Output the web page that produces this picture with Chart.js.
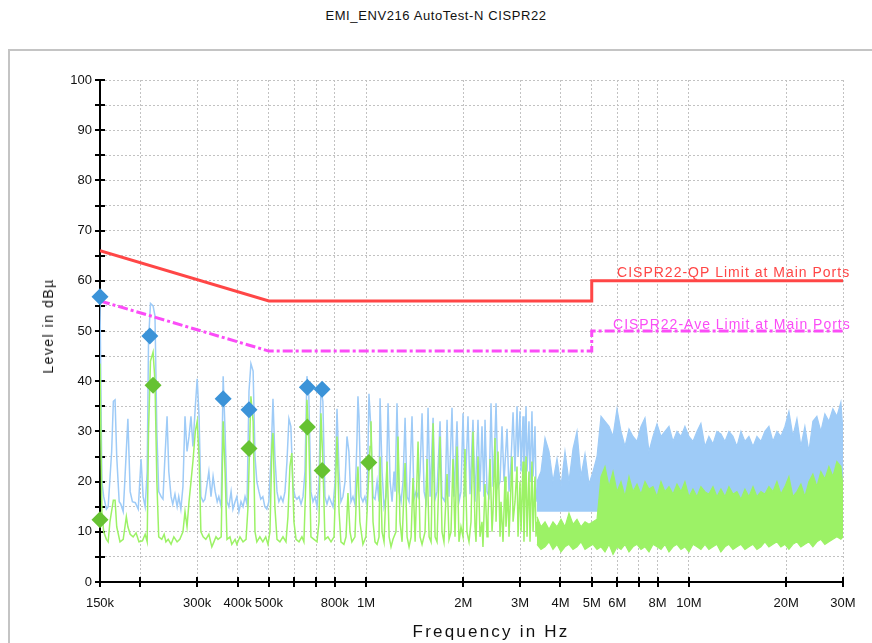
<!DOCTYPE html>
<html>
<head>
<meta charset="utf-8">
<title>EMI_ENV216 AutoTest-N CISPR22</title>
<script src="https://cdn.jsdelivr.net/npm/chart.js@4.4.1/dist/chart.umd.min.js"></script>
<style>
  html, body { margin: 0; padding: 0; background: #fff; }
  body { width: 872px; height: 643px; position: relative; overflow: hidden; font-family: "Liberation Sans", Arial, sans-serif; color: #111; }
  #frame { position: absolute; left: 8px; top: 49px; width: 900px; height: 700px; border: 2px solid #c4c4c4; }
  #title { position: absolute; left: 0; top: 8px; width: 872px; text-align: center; font-size: 13px; letter-spacing: 0.6px; }
  #chart { position: absolute; left: 0; top: 0; }
  #y-title { position: absolute; left: 48px; top: 326px; transform: translate(-50%, -50%) rotate(-90deg); font-size: 14px; letter-spacing: 1.5px; white-space: nowrap; }
  #x-title { position: absolute; left: 491px; top: 632px; transform: translate(-50%, -50%); font-size: 17px; letter-spacing: 2.2px; white-space: nowrap; }
</style>
</head>
<body>
<div id="frame"></div>
<div id="title">EMI_ENV216 AutoTest-N CISPR22</div>
<canvas id="chart" width="872" height="643"></canvas>
<div id="y-title">Level in dBµ</div>
<div id="x-title">Frequency in Hz</div>
<script>
// ── Data (frequency in kHz, level in dBµV) ──────────────────
const xTickValues = [150, 200, 300, 400, 500, 600, 700, 800, 1000, 2000, 3000, 4000, 5000, 6000, 7000, 8000, 10000, 20000, 30000];
const xTickLabels = ['150k', '', '300k', '400k', '500k', '', '', '800k', '1M', '2M', '3M', '4M', '5M', '6M', '', '8M', '10M', '20M', '30M'];

const qpFreq = [150, 500, 5000, 5000, 30000];
const qpLevel = [66, 56, 56, 60, 60];
const aveFreq = [150, 500, 5000, 5000, 30000];
const aveLevel = [56, 46, 46, 50, 50];
const qpLabel = 'CISPR22-QP Limit at Main Ports';
const aveLabel = 'CISPR22-Ave Limit at Main Ports';

// final measurement markers
const peakFreq = [150, 214, 361, 434, 658, 731];
const peakLevel = [56.8, 49.0, 36.5, 34.3, 38.8, 38.4];
const avgFreq = [150, 219, 434, 658, 731, 1020];
const avgLevel = [12.4, 39.2, 26.6, 30.9, 22.2, 23.8];

// pre-scan traces below 3.4 MHz: [kHz, level]
const blueLowTrace = [
  [150,56],[152,20],[154,17],[157,14.5],[159,15],[163,26],[165,36],[167,36.3],[169,25],[172,16],[174,15.5],[177,14],[179,20],[183,32.5],[186,18],[189,16],[193,15.8],[197,14.5],[201,24.5],[204,17],[207,15],[210,22],[212,48],[215,55.5],[219,55],[222,53],[225,30],[228,18],[232,17],[235,16.5],[238,24],[242,33],[245,22],[249,17],[252,15.5],[256,17.5],[260,15],[263,17],[267,14.5],[271,19],[275,33],[279,26],[283,29],[287,33],[291,27],[296,35],[300,40.5],[304,33],[308,17],[313,16],[317,16.5],[321,19],[326,22],[331,17],[336,21],[341,18],[346,16],[350,17],[356,15],[361,41],[366,30],[371,16],[376,15],[382,18],[387,14.5],[393,16],[398,17],[404,14],[410,16],[416,15],[422,17],[428,15.5],[434,38],[440,43.5],[447,42],[453,25],[459,20],[466,18],[472,16.5],[479,17],[486,15],[493,14.5],[500,16],[508,25],[515,36.5],[522,25],[530,18],[537,16],[545,17],[553,16],[561,18],[569,24],[577,32.5],[585,31],[594,19],[603,17],[611,16.5],[620,17],[629,15.5],[638,17],[647,22],[656,41],[665,37],[675,18],[685,16],[695,17],[705,15],[715,20],[725,38.5],[735,36],[746,17],[757,15.5],[768,17],[779,16],[790,15],[802,20],[813,34.5],[825,22],[836,16],[848,17],[861,20],[873,29],[885,26],[898,16],[911,17],[924,15.5],[937,28],[944,37],[951,33],[964,17],[978,16],[992,17],[1007,15],[1021,37.5],[1036,30],[1051,17],[1066,16.5],[1082,20],[1097,16],[1105,36.6],[1121,22],[1137,15],[1154,17],[1170,35.6],[1187,20],[1204,16],[1221,22],[1230,18],[1247,35.6],[1265,18],[1284,16],[1302,20],[1321,32.7],[1340,17],[1359,16],[1388,33],[1408,16.5],[1429,18],[1449,17],[1470,22],[1491,33.6],[1513,18],[1535,16],[1556,34.7],[1579,17],[1613,32.7],[1636,16.5],[1659,18],[1695,32],[1719,17],[1756,16],[1782,32.3],[1807,17],[1846,34.7],[1872,17],[1913,32],[1940,16],[1968,18],[1997,33.6],[2025,17],[2069,33],[2099,17.5],[2144,32.3],[2175,16],[2222,32.3],[2254,18],[2286,31],[2318,17],[2336,32.3],[2370,18],[2403,17],[2438,35.6],[2473,19],[2491,23],[2527,35.6],[2563,19],[2600,20],[2637,31],[2675,20],[2733,30.5],[2772,18],[2812,24],[2853,33.8],[2893,22],[2935,35],[2956,25],[2998,34],[3020,22],[3063,33],[3084,20],[3130,35],[3152,22],[3196,32],[3220,20],[3265,34],[3290,21],[3336,31],[3360,19],[3384,16]
];
const greenLowTrace = [
  [150,43.5],[152,14],[154,10],[157,8.5],[159,8],[161,12],[165,16.3],[167,16.3],[169,11],[173,8],[177,8.5],[181,13],[183,11],[186,9.5],[190,9],[194,9.8],[198,8],[203,8.2],[207,9.5],[210,8],[212,30],[215,44],[219,45.8],[222,40],[225,20],[228,9],[233,8.5],[237,9.5],[240,8],[244,8.5],[249,7.5],[254,9],[260,8],[265,8.5],[271,10],[275,14],[279,11],[283,16],[287,20],[291,24],[296,30],[300,32],[304,25],[308,10],[313,9],[319,8.5],[326,9.5],[333,7],[338,8],[343,9],[348,8.5],[356,9],[361,32],[366,22],[371,8.5],[379,9],[384,7.5],[393,8.5],[398,7.5],[407,9],[416,8],[425,8.5],[431,15],[437,30],[440,37],[447,32],[453,10],[459,8],[469,9],[479,8],[489,9],[497,7.5],[504,10],[511,27],[515,29.7],[522,15],[530,8.5],[541,8],[553,9],[565,8],[573,13],[581,23],[589,25.7],[598,12],[607,8.5],[620,8],[633,9],[642,8],[651,20],[656,36.3],[665,29],[675,9],[690,8.5],[705,8],[715,12],[725,33.6],[735,24],[746,8.5],[762,9],[779,8],[796,9],[813,29],[825,14],[836,8],[854,7.5],[867,9],[879,17.7],[892,10],[904,8],[924,9],[937,20],[944,23],[957,12],[978,7.5],[999,9],[1014,18],[1029,27],[1036,32],[1051,12],[1066,8],[1082,7.5],[1097,9],[1105,25],[1121,10],[1137,8],[1162,24],[1179,9],[1195,7],[1212,8.5],[1238,10],[1256,29],[1274,12],[1293,8],[1321,23.7],[1340,9],[1359,7],[1379,9],[1398,20.7],[1419,8],[1449,28],[1470,9],[1491,7.5],[1523,10],[1545,24.5],[1568,9],[1590,8],[1613,31.6],[1636,9],[1659,8],[1695,29],[1719,10],[1743,8],[1782,21.5],[1807,8.5],[1833,10],[1859,24.5],[1886,9],[1913,27],[1940,8],[1968,11],[1997,9],[2025,26.5],[2054,10],[2084,8],[2114,12],[2144,30],[2175,11],[2191,8],[2222,25],[2254,9],[2286,12],[2302,7],[2336,19.5],[2370,9],[2386,13],[2421,24.5],[2456,10],[2473,14],[2509,28.7],[2527,12],[2563,26],[2600,9],[2618,16],[2656,8],[2694,21],[2713,11],[2752,18],[2772,9],[2833,25],[2853,12],[2893,16],[2935,23],[2956,9],[2998,20],[3020,10],[3063,24],[3084,8],[3130,25],[3152,9],[3196,22],[3220,8],[3265,24],[3290,10],[3336,21],[3360,9],[3384,12]
];

// dense part above 3.4 MHz, read as envelopes
const bandFreq = [3384, 3482, 3583, 3687, 3793, 3903, 4016, 4132, 4251, 4375, 4501, 4631, 4766, 4903, 5045, 5192, 5342, 5496, 5655, 5819, 5987, 6160, 6339, 6522, 6710, 6905, 7104, 7310, 7521, 7739, 7963, 8193, 8430, 8674, 8925, 9183, 9449, 9719, 10000, 10290, 10590, 10890, 11210, 11530, 11870, 12210, 12560, 12930, 13300, 13690, 14080, 14490, 14910, 15340, 15790, 16240, 16710, 17190, 17690, 18200, 18730, 19270, 19830, 20400, 20990, 21600, 22220, 22860, 23520, 24200, 24900, 25620, 26360, 27130, 27910, 28720, 29550, 30000];
const blueBandTop = [20, 22, 28.7, 26, 20, 24.6, 19, 26, 20, 26.5, 30, 21, 25.5, 19.5, 22, 25, 33, 32, 31, 29, 34.5, 30, 27, 30.5, 29, 28, 31, 32.7, 26, 29, 31.5, 29, 30, 31, 28, 30, 29, 31, 29, 28, 30, 31.6, 27, 29, 27.5, 30, 29.5, 28, 30, 29, 27, 30, 28, 29, 27, 29, 28, 30, 31, 28, 30, 29, 31, 34, 29, 32.5, 27, 31, 26, 32, 33, 30, 33.5, 32, 34.5, 33, 35.8, 30];
const greenBandTop = [13, 11, 12, 10.5, 12, 11, 12.5, 11, 13.7, 11.5, 12.5, 11, 12, 11.5, 12, 12.5, 21, 23, 19, 22, 18, 20, 17, 21, 18, 19.5, 17.5, 20, 18.5, 19, 17, 20, 18, 19, 17.5, 19.5, 18, 20, 17, 18.5, 17, 19, 18, 17.5, 19, 17, 18.5, 17, 19, 17.5, 18, 16.5, 18.5, 17, 19, 17, 18, 17.5, 19, 18, 20, 17.5, 19, 21, 17, 18, 19.5, 17, 20, 21.5, 19, 22, 20.5, 23, 21, 24, 23, 19];
const greenBandBottom = [7.5, 6.5, 7, 8, 6.5, 7.5, 6, 7, 7.5, 6.5, 7, 8, 6.5, 7, 7.5, 6.5, 7, 6, 7.5, 5.5, 7, 6.5, 7.5, 6, 7, 7.5, 6.5, 7, 6, 7.5, 7, 6.5, 7.5, 6, 7, 7.5, 6.5, 7, 6, 7.5, 7, 6.5, 7.5, 6.5, 7, 7.5, 6, 7, 7.5, 6.5, 7, 7.5, 6.5, 7, 7.5, 6.5, 7, 8, 7, 7.5, 8, 7, 7.5, 6.5, 7.5, 8, 7, 7.5, 8, 7, 8, 8.5, 7.5, 8, 8.5, 9, 8.5, 9];

// ── Colours ──────────────────────────────────────────────
const blueTrace = '#9ecbf7';
const greenTrace = '#9cf266';
const blueMarker = '#3b93d8';
const greenMarker = '#66c232';
const qpColor = '#ff4646';
const aveColor = '#fb4cf7';

// ── Helpers ──────────────────────────────────────────────
const fontFamily = '"Liberation Sans", Arial, sans-serif';
const pts = (freq, level) => freq.map((f, i) => ({ x: f * 1000, y: level[i] }));
const pairs = list => list.map(([f, l]) => ({ x: f * 1000, y: l }));

function trace(data, color, width, extra) {
    return Object.assign({
        data, borderColor: color, backgroundColor: color, borderWidth: width,
        showLine: true, pointRadius: 0, tension: 0, fill: false
    }, extra || {});
}

function markers(data, color, order) {
    return {
        data, pointStyle: 'rectRot', pointRadius: 8.5, backgroundColor: color,
        borderColor: color, borderWidth: 0, showLine: false, clip: false, order
    };
}

// ticks that cross the axis lines, like the measurement software draws them
const axisTicks = {
    id: 'axisTicks',
    beforeDatasetsDraw(chart) {
        const { ctx, chartArea: a, scales: { x, y } } = chart;
        ctx.save();
        ctx.strokeStyle = '#000';
        ctx.lineWidth = 2;
        ctx.beginPath();
        y.ticks.forEach(t => {
            const py = Math.round(y.getPixelForValue(t.value));
            ctx.moveTo(a.left - 5, py); ctx.lineTo(a.left + 5, py);
        });
        x.ticks.forEach(t => {
            const px = Math.round(x.getPixelForValue(t.value));
            ctx.moveTo(px, a.bottom - 5); ctx.lineTo(px, a.bottom + 5);
        });
        ctx.stroke();
        ctx.restore();
    }
};

// limit line captions
const limitLabels = {
    id: 'limitLabels',
    afterDatasetsDraw(chart) {
        const { ctx, scales: { x, y } } = chart;
        ctx.save();
        ctx.font = '14px ' + fontFamily;
        ctx.letterSpacing = '1px';
        ctx.textAlign = 'left';
        ctx.textBaseline = 'alphabetic';
        ctx.fillStyle = qpColor;
        ctx.fillText(qpLabel, x.getPixelForValue(5990e3), y.getPixelForValue(qpLevel[4]) - 4);
        ctx.fillStyle = aveColor;
        ctx.fillText(aveLabel, x.getPixelForValue(5820e3), y.getPixelForValue(aveLevel[4]) - 2);
        ctx.restore();
    }
};

Chart.defaults.font.family = fontFamily;
Chart.defaults.font.size = 13;
Chart.defaults.color = '#111';

const gridStyle = { color: '#c2c2c2', lineWidth: 1, drawTicks: false };
const borderStyle = { display: true, color: '#000', width: 2, dash: [2, 2] };

new Chart(document.getElementById('chart'), {
    type: 'scatter',
    data: {
        datasets: [
            markers(pts(peakFreq, peakLevel), blueMarker, 0),
            markers(pts(avgFreq, avgLevel), greenMarker, 1),
            trace(pts(qpFreq, qpLevel), qpColor, 3, { order: 2 }),
            trace(pts(aveFreq, aveLevel), aveColor, 3, { order: 3, borderDash: [10, 3, 3, 3] }),
            trace(pairs(greenLowTrace), greenTrace, 1.5, { order: 4 }),
            trace(pts(bandFreq, greenBandTop), greenTrace, 1.2, { order: 5, fill: 6 }),
            trace(pts(bandFreq, greenBandBottom), greenTrace, 1.2, { order: 6 }),
            trace(pairs(blueLowTrace), blueTrace, 1.5, { order: 7 }),
            trace(pts(bandFreq, blueBandTop), blueTrace, 1.2, { order: 8, fill: { value: 14 } })
        ]
    },
    options: {
        responsive: false,
        animation: false,
        events: [],
        layout: { padding: { top: 80, right: 29, left: 0, bottom: 0 } },
        plugins: { legend: { display: false }, tooltip: { enabled: false } },
        scales: {
            x: {
                type: 'logarithmic',
                min: 150000,
                max: 30000000,
                afterBuildTicks: axis => { axis.ticks = xTickValues.map(v => ({ value: v * 1000 })); },
                afterFit: axis => { axis.height = 61; },
                ticks: {
                    autoSkip: false, maxRotation: 0, padding: 14,
                    callback: (value, index) => xTickLabels[index]
                },
                grid: gridStyle,
                border: borderStyle
            },
            y: {
                min: 0,
                max: 100,
                afterFit: axis => { axis.width = 100; },
                ticks: {
                    stepSize: 5, padding: 8,
                    callback: v => (v % 10 === 0 ? String(v) : '')
                },
                grid: gridStyle,
                border: borderStyle
            }
        }
    },
    plugins: [axisTicks, limitLabels]
});
</script>
</body>
</html>
